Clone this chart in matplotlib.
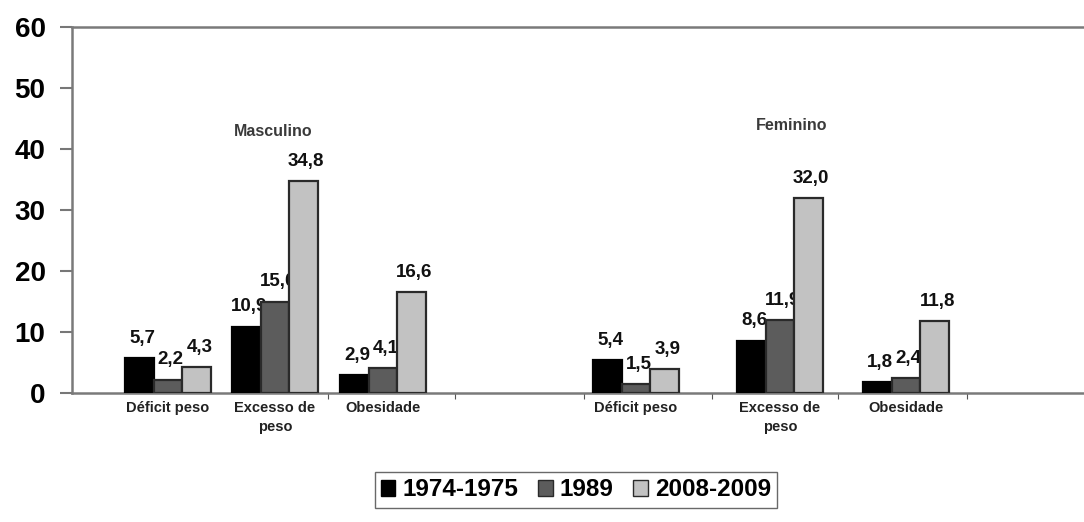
import matplotlib
matplotlib.use("Agg")
import matplotlib.pyplot as plt
from matplotlib.patches import Patch

# prevalence (%) by sex, indicator and survey period
periods = ["1974-1975", "1989", "2008-2009"]
categories = ["Déficit peso", "Excesso de\npeso", "Obesidade"]
masculino = {
    "1974-1975": [5.7, 10.9, 2.9],
    "1989": [2.2, 15.0, 4.1],
    "2008-2009": [4.3, 34.8, 16.6],
}
feminino = {
    "1974-1975": [5.4, 8.6, 1.8],
    "1989": [1.5, 11.9, 2.4],
    "2008-2009": [3.9, 32.0, 11.8],
}
yticks = [0, 10, 20, 30, 40, 50, 60]

plt.rcParams.update({"font.family": ["Liberation Sans", "DejaVu Sans"]})

FACE = {"1974-1975": "#000000", "1989": "#5c5c5c", "2008-2009": "#c2c2c2"}
EDGE = {"1974-1975": "#000000", "1989": "#2a2a2a", "2008-2009": "#2a2a2a"}
W = 28.5
# group centres on a pixel-like x scale
centres = {"Masculino": [168, 275, 383], "Feminino": [636, 780, 906]}
panels = [("Masculino", masculino, 273, 131), ("Feminino", feminino, 792, 126)]

fig = plt.figure(figsize=(10.84, 5.22), dpi=100)
ax = fig.add_axes([72 / 1084, 129 / 522, 1 - 72 / 1084, 366 / 522])
ax.set_xlim(72, 1084)
ax.set_ylim(0, 60)

for name, data, tx, ty in panels:
    cx = centres[name]
    for k, p in enumerate(periods):
        xs = [c + (k - 1) * W for c in cx]
        ax.bar(xs, data[p], width=W, color=FACE[p], edgecolor=EDGE[p],
               linewidth=1.6, zorder=3)
        for x, v in zip(xs, data[p]):
            ax.annotate(f"{v:.1f}".replace(".", ","), (x, v), xytext=(2, 8),
                        textcoords="offset points", ha="center", va="bottom",
                        fontsize=13.5, fontweight="bold", color="#111111")
    for c, lab in zip(cx, categories):
        ax.text(c, -1.3, lab, ha="center", va="top", fontsize=10.5,
                fontweight="bold", color="#222222", linespacing=1.45)
    fig.text(tx / 1084, 1 - ty / 522, name, ha="center", va="center",
             fontsize=11.5, fontweight="bold", color="#3a3a3a")

ax.set_yticks(yticks)
ax.set_yticklabels([str(t) for t in yticks], fontsize=20, fontweight="bold")
ax.set_xticks([328, 455, 584, 712, 838, 967])
ax.set_xticklabels([])
ax.tick_params(axis="x", length=4, color="#555555", direction="out")
ax.tick_params(axis="y", length=9, color="#777777", width=1.5, pad=10)
for sp in ("left", "bottom", "top"):
    ax.spines[sp].set_color("#7a7a7a")
    ax.spines[sp].set_linewidth(1.8)
ax.spines["right"].set_visible(False)

handles = [Patch(facecolor=FACE[p], edgecolor=EDGE[p], label=p) for p in periods]
fig.legend(handles=handles, loc="center", bbox_to_anchor=(576 / 1084, 1 - 490 / 522),
           ncol=3, frameon=True, fancybox=False, edgecolor="#444444",
           prop={"size": 17.5, "weight": "bold"}, handlelength=0.6, handleheight=0.6,
           handletextpad=0.3, columnspacing=0.8, borderpad=0.25)

fig.savefig("out.png", dpi=100)
